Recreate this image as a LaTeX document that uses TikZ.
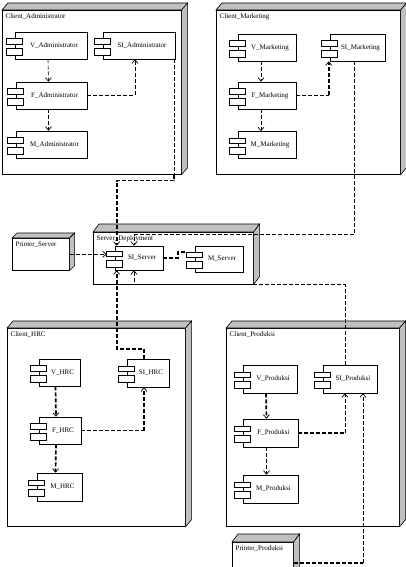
\documentclass[tikz,border=0pt]{standalone}
\usepackage{fontspec}
\setmainfont{Liberation Serif}
\usetikzlibrary{calc,arrows.meta}
\definecolor{facegray}{RGB}{192,192,192}
\tikzset{
  every node/.style={font=\fontsize{7}{8}\selectfont},
  box/.style={draw, fill=white, inner sep=0pt, anchor=north west},
  comp/.style={draw, fill=white, inner sep=0pt, minimum height=27pt, execute at begin node=\hspace*{6pt}},
  dep/.style={dash pattern=on 4pt off 2pt},
  depthick/.style={dep, line width=1.7pt},
  opentip/.style={-{Straight Barb[length=3.5pt,width=6pt,line width=0.7pt]}},
}
\begin{document}
\begin{tikzpicture}[x=1pt,y=-1pt,line width=0.6pt]
\useasboundingbox (0,0) rectangle (406,567);
\clip (0,0) rectangle (406,567);
\node[box, minimum width=179pt, minimum height=164pt, label={[anchor=north west]north west:Client\_Administrator}] (CA) at (2,10) {};
\node[box, minimum width=184pt, minimum height=164pt, label={[anchor=north west]north west:Client\_Marketing}] (CM) at (216,10) {};
\node[box, minimum width=160pt, minimum height=52pt, label={[anchor=north west]north west:Server\_Deployment}] (SD) at (93,232) {};
\node[box, minimum width=57pt, minimum height=32pt, label={[anchor=north west]north west:Printer\_Server}] (PS) at (12,238) {};
\node[box, minimum width=178pt, minimum height=198pt, label={[anchor=north west]north west:Client\_HRC}] (CH) at (7,328) {};
\node[box, minimum width=173pt, minimum height=198pt, label={[anchor=north west]north west:Client\_Produksi}] (CP) at (226,328) {};
\node[box, minimum width=61pt, minimum height=42pt, label={[anchor=north west]north west:Printer\_Produksi}] (PP) at (232,542) {};
\foreach \n/\dx/\dy in {CA/6/7, CM/6/7, SD/6/8, PS/5/5, CH/6/7, CP/6/7, PP/6/8} {
  \filldraw[fill=facegray] (\n.north west) -- ++(\dx,-\dy) -- ($(\n.north east)+(\dx,-\dy)$) -- (\n.north east) -- cycle;
  \filldraw[fill=facegray] (\n.north east) -- ++(\dx,-\dy) -- ($(\n.south east)+(\dx,-\dy)$) -- (\n.south east) -- cycle;
}
\node[comp, minimum width=72pt] (VA) at (51,45.5) {V\_Administrator};
\node[comp, minimum width=72pt] (SA) at (139,45.5) {SI\_Administrator};
\node[comp, minimum width=71pt] (FA) at (51.5,95.5) {F\_Administrator};
\node[comp, minimum width=71pt] (MA) at (51.5,144.5) {M\_Administrator};
\node[comp, minimum width=58pt] (VM) at (267,47.5) {V\_Marketing};
\node[comp, minimum width=55pt] (SM) at (357.5,47.5) {SI\_Marketing};
\node[comp, minimum width=58pt] (FM) at (267,95.5) {F\_Marketing};
\node[comp, minimum width=58pt] (MM) at (267,145) {M\_Marketing};
\node[comp, minimum width=48pt, minimum height=24pt] (SS) at (139,258) {SI\_Server};
\node[comp, minimum width=48pt, minimum height=26pt] (MS) at (219,259) {M\_Server};
\node[comp, minimum width=41pt] (VH) at (59.5,372.5) {V\_HRC};
\node[comp, minimum width=42pt, minimum height=28pt] (SH) at (148,373) {SI\_HRC};
\node[comp, minimum width=42pt] (FH) at (60,430.5) {F\_HRC};
\node[comp, minimum width=45pt, minimum height=28pt] (MH) at (59.5,487) {M\_HRC};
\node[comp, minimum width=54pt, minimum height=28pt] (VP) at (270,379) {V\_Produksi};
\node[comp, minimum width=54pt, minimum height=28pt] (SP) at (350,379) {SI\_Produksi};
\node[comp, minimum width=55pt, minimum height=28pt] (FP) at (270.5,433) {F\_Produksi};
\node[comp, minimum width=55pt, minimum height=28pt] (MP) at (270.5,489) {M\_Produksi};
\foreach \n in {VA,SA,FA,MA,VM,SM,FM,MM,SS,MS,VH,SH,FH,MH,VP,SP,FP,MP} {
  \draw[fill=white] ($(\n.west)+(-8,-7)$) rectangle ($(\n.west)+(8,-1.5)$);
  \draw[fill=white] ($(\n.west)+(-8,2.5)$) rectangle ($(\n.west)+(8,9.5)$);
}
\draw[dep,opentip] ($(VA.south)+(-3,0)$) -- ($(FA.north)+(-3,0)$);
\draw[dep,opentip] ($(FA.south)+(-3,0)$) -- ($(MA.north)+(-3,0)$);
\draw[depthick] (FA.east) -- ($(FA.east -| SA.south)+(-4,0)$);
\draw[dep,opentip] ($(FA.east -| SA.south)+(-4,0)$) -- ($(SA.south)+(-4,0)$);
\draw[dep] ($(SA.south east)+(-1,0)$) -- ($(SA.south east |- CA.south)+(-1,0)$);
\draw[depthick,opentip] ($(SA.south east |- CA.south)+(-1,0)$) -- ++(0,6) -| ($(SS.north west)+(2,0)$);
\draw[dep,opentip] ($(VM.south)+(-6,0)$) -- ($(FM.north)+(-6,0)$);
\draw[dep,opentip] ($(FM.south)+(-6,0)$) -- ($(MM.north)+(-6,0)$);
\draw[dep] (FM.east) -- ($(FM.east -| SM.south west)+(-1,0)$);
\draw[depthick,opentip] ($(FM.east -| SM.south west)+(-1,0)$) -- ($(SM.south west)+(-1,0)$);
\draw[dep,opentip] ($(SM.south)+(-3,0)$) |- ($(SS.north)+(-5,-11)$) -- ($(SS.north)+(-5,0)$);
\draw[dep,opentip] (PS.east) -- ($(PS.east -| SS.west)+(-8,0)$);
\draw[depthick] (SS.east) -- ++(15,0) |- ($(MS.west)+(-8,-7)$);
\draw[depthick,opentip] ($(VH.south)+(-4,0)$) -- ($(FH.north)+(-4,0)$);
\draw[depthick,opentip] ($(FH.south)+(-4,0)$) -- ($(MH.north)+(-4,0)$);
\draw[dep] (FH.east) -- ($(FH.east -| SH.south)+(-4,0)$);
\draw[depthick,opentip] ($(FH.east -| SH.south)+(-4,0)$) -- ($(SH.south)+(-4,0)$);
\draw[depthick,opentip] ($(SH.north)+(-4,0)$) -- ++(0,-10) -| ($(SS.south west)+(2,0)$);
\draw[depthick,opentip] ($(VP.south)+(-4,0)$) -- ($(FP.north)+(-4,0)$);
\draw[depthick,opentip] ($(FP.south)+(-4,0)$) -- ($(MP.north)+(-4,0)$);
\draw[depthick] (FP.east) -- ($(FP.east -| SP.south)+(-5,0)$);
\draw[dep,opentip] ($(FP.east -| SP.south)+(-5,0)$) -- ($(SP.south)+(-5,0)$);
\draw[dep,opentip] ($(SP.north)+(-5,0)$) |- ($(SD.south -| SS.south)+(-5,0)$) -- ($(SS.south)+(-5,0)$);
\draw[depthick] (PP.east) -- ($(PP.east -| SP.south)+(13,0)$);
\draw[dep,opentip] ($(PP.east -| SP.south)+(13,0)$) -- ($(SP.south)+(13,0)$);
\end{tikzpicture}
\end{document}
